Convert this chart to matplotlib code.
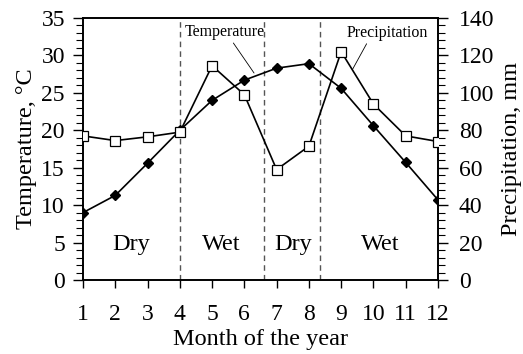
import matplotlib
matplotlib.use('Agg')
import matplotlib.pyplot as plt
from matplotlib.ticker import MultipleLocator

plt.rcParams['font.family'] = ['Liberation Serif', 'DejaVu Serif']

months = [1, 2, 3, 4, 5, 6, 7, 8, 9, 10, 11, 12]
temperature = [9.0, 11.3, 15.6, 20.0, 24.0, 26.7, 28.3, 28.9, 25.6, 20.6, 15.7, 10.7]
precipitation = [77, 74.5, 76.5, 79, 114.5, 99, 59, 71.5, 122, 94, 77, 74]
season_bounds = [4, 6.6, 8.35]
season_names = ['Dry', 'Wet', 'Dry', 'Wet']
season_x = [2.5, 5.3, 7.5, 10.2]

fig = plt.figure(figsize=(5.23, 3.54), dpi=100)
ax = fig.add_axes([83 / 523, 74 / 354, 355 / 523, 262 / 354])
ax2 = ax.twinx()

ax.plot(months, temperature, '-', color='black', lw=1.2, marker='D', ms=5,
        mfc='black', mec='black', zorder=3)
ax2.plot(months, precipitation, '-', color='black', lw=1.2, marker='s', ms=7.5,
         mfc='white', mec='black', mew=0.9, zorder=3)

for b in season_bounds:
    ax.axvline(b, color='#555555', ls=(0, (4, 3)), lw=1.0)
for name, xc in zip(season_names, season_x):
    ax.text(xc, 4.7, name, ha='center', va='center', fontsize=17.5)

ax.set_xlim(1, 12)
ax.set_ylim(0, 35)
ax2.set_ylim(0, 140)
ax.set_xticks(months)
ax.yaxis.set_major_locator(MultipleLocator(5))
ax.yaxis.set_minor_locator(MultipleLocator(1))
ax2.yaxis.set_major_locator(MultipleLocator(20))
ax2.yaxis.set_minor_locator(MultipleLocator(4))

ax.tick_params(axis='x', direction='out', length=6, width=1, pad=11, labelsize=17)
ax.tick_params(axis='y', which='major', direction='out', length=7, width=1, labelsize=17, pad=6)
ax.tick_params(axis='y', which='minor', direction='out', length=5, width=0.8)
ax2.tick_params(axis='y', which='major', direction='out', length=7, width=1, labelsize=17, pad=8)
ax2.tick_params(axis='y', which='minor', direction='out', length=5, width=0.8)

for a in (ax, ax2):
    for s in a.spines.values():
        s.set_linewidth(1.2)

ax.set_xlabel('Month of the year', fontsize=17.5, labelpad=3)
ax.set_ylabel('Temperature, °C', fontsize=17.5, labelpad=3)
ax2.set_ylabel('Precipitation, mm', fontsize=17.5, labelpad=5)

ax.annotate('Temperature', xy=(6.3, 27.65), xytext=(4.16, 33.1), fontsize=11.5,
            ha='left', va='center',
            arrowprops=dict(arrowstyle='-', color='black', lw=0.6,
                            shrinkA=0, shrinkB=0, relpos=(0.58, 0)))
ax2.annotate('Precipitation', xy=(9.35, 112.5), xytext=(9.18, 132), fontsize=11.5,
             ha='left', va='center',
             arrowprops=dict(arrowstyle='-', color='black', lw=0.6,
                             shrinkA=0, shrinkB=0, relpos=(0.26, 0)))

fig.savefig('out.png', dpi=100)
